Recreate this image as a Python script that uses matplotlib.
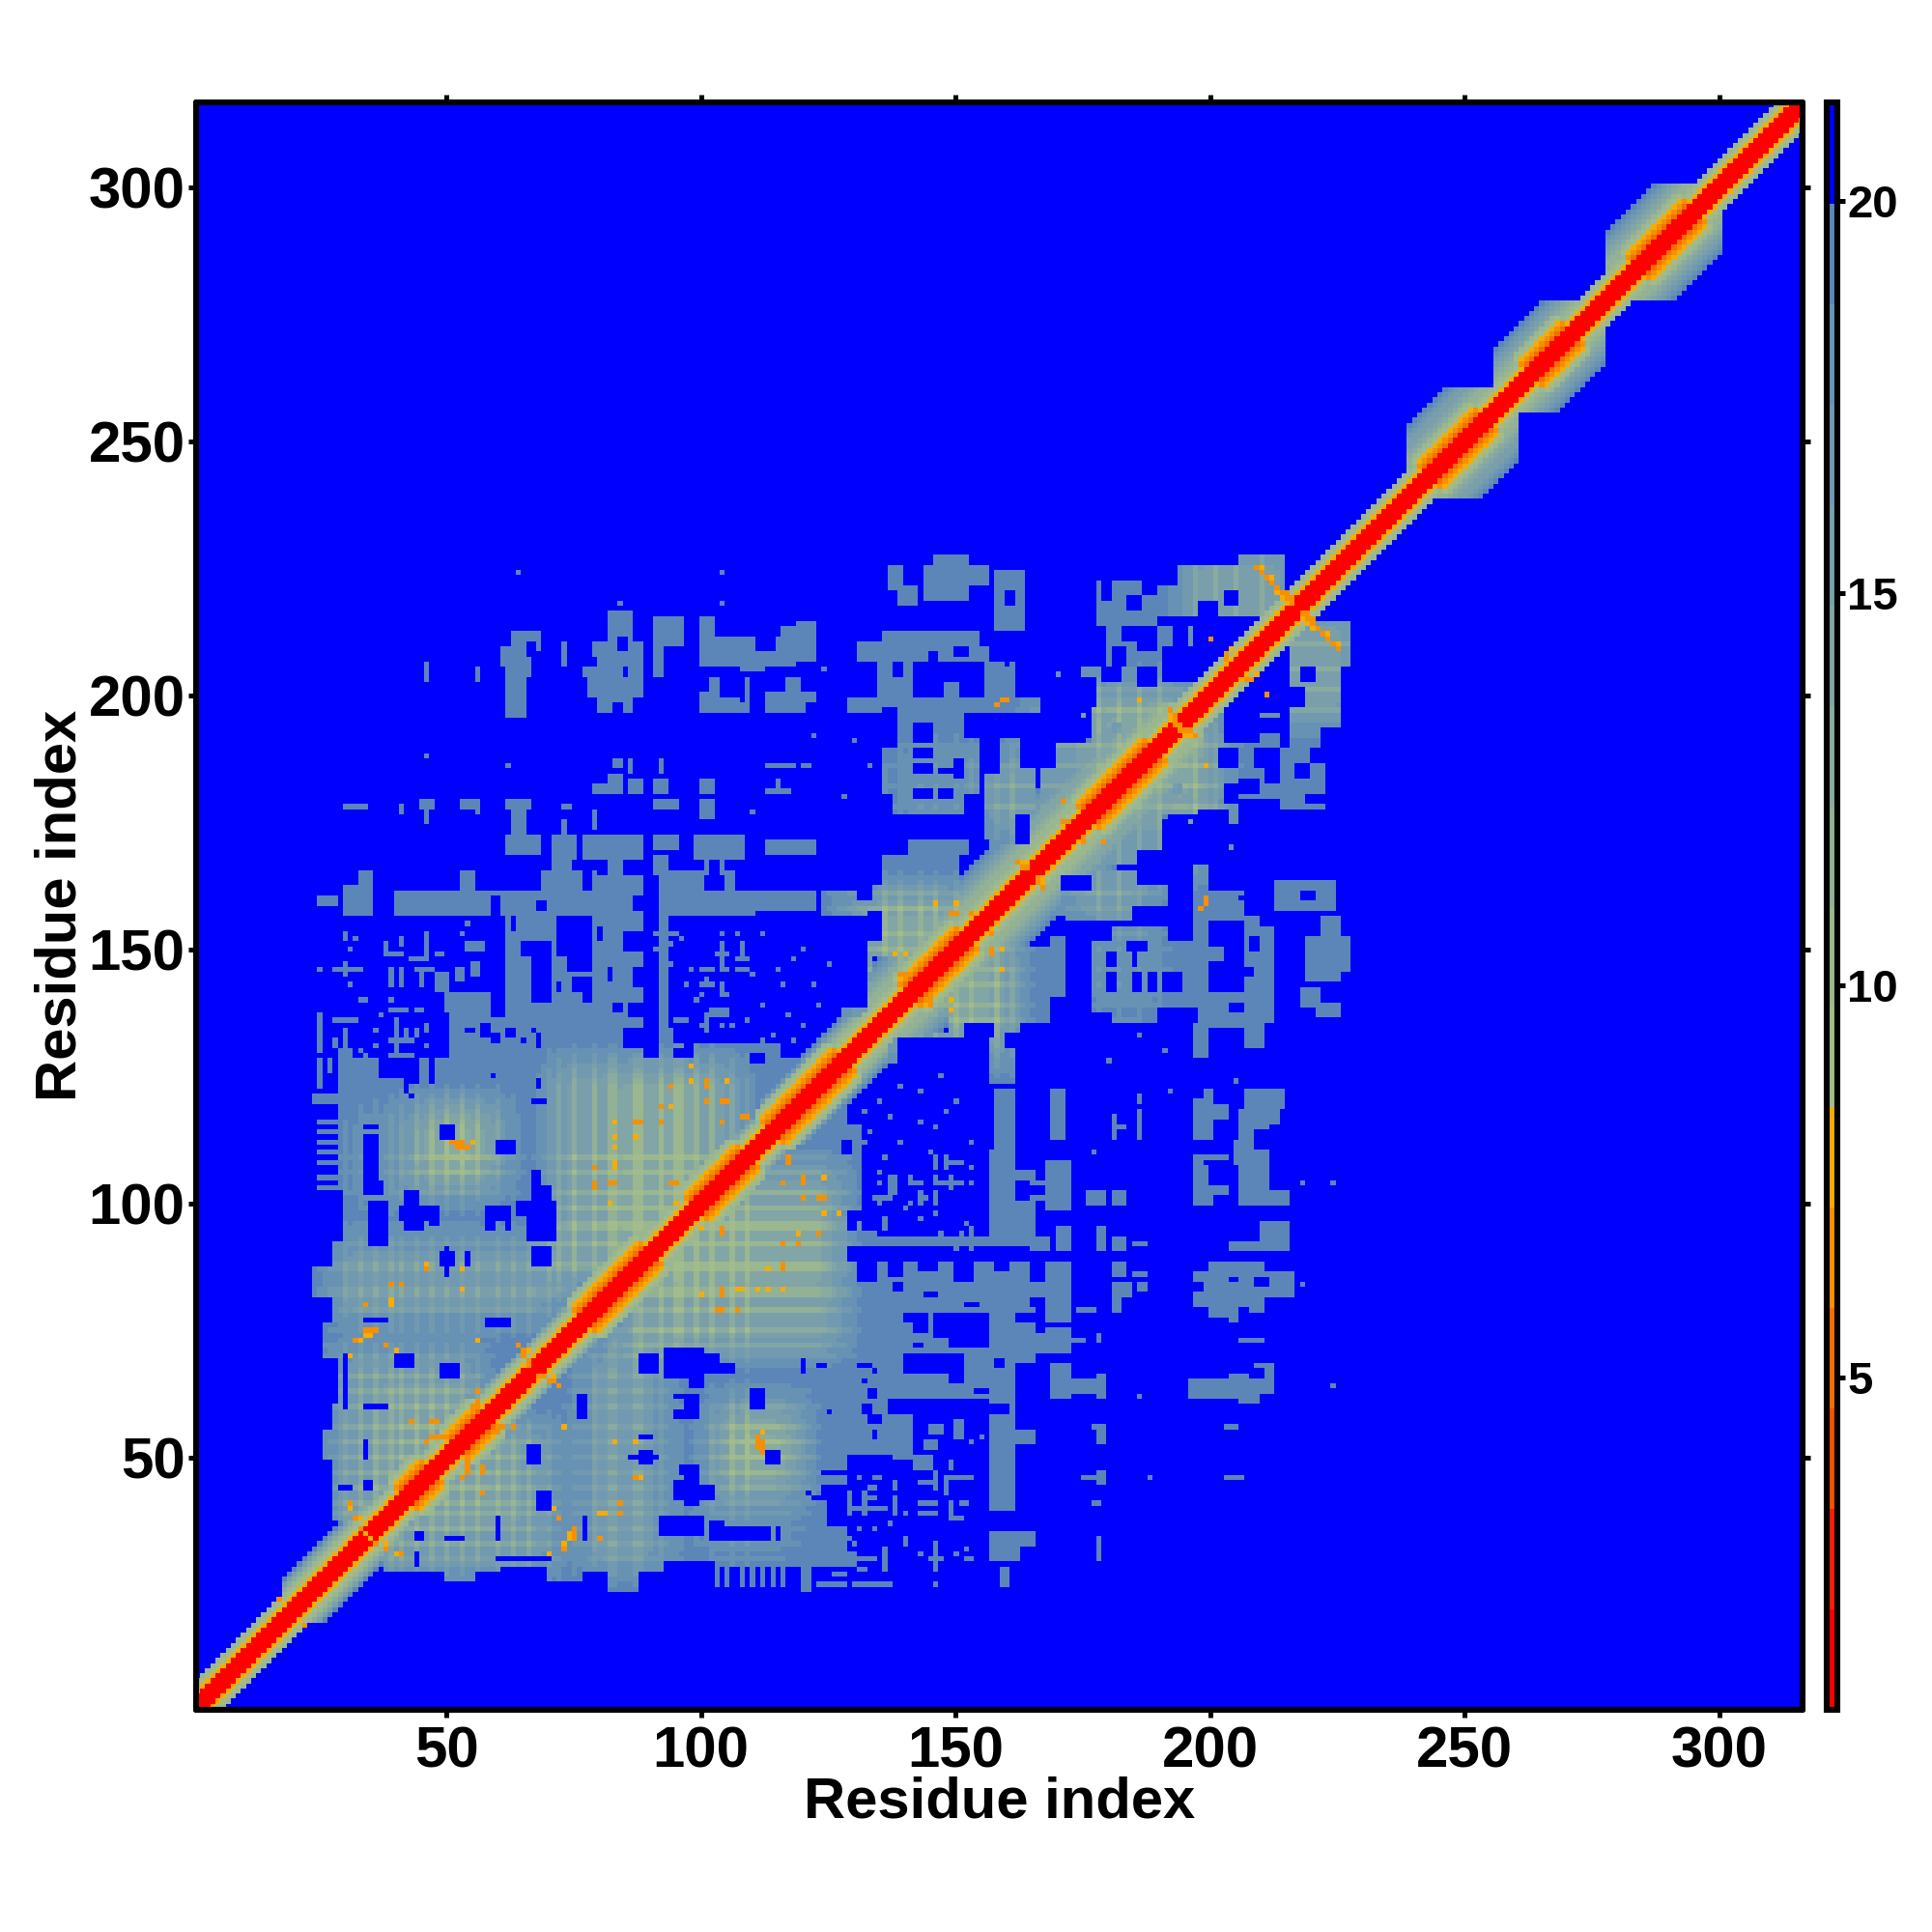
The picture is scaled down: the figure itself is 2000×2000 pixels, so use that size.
import matplotlib
matplotlib.use("Agg")
from matplotlib import pyplot as plt
from matplotlib.colors import ListedColormap, BoundaryNorm
from matplotlib.colorbar import ColorbarBase
import numpy as np

plt.rcParams['font.family'] = ['Liberation Sans', 'DejaVu Sans']
plt.rcParams['font.weight'] = 'bold'

n_res = 316
tick_vals = [50, 100, 150, 200, 250, 300]
cbar_ticks = [5, 10, 15, 20]
bounds = [0.76, 2.04, 3.32, 4.60, 5.88, 7.16, 8.44, 9.72, 11.0, 12.28, 13.56, 14.84, 16.12, 17.4, 18.68, 19.96, 21.26]
level_colors = ['#FF0000', '#F81E08', '#F65000', '#F27000', '#F69000', '#F6AC00',
                '#A3BC8B', '#9BB78F', '#93B194', '#8AABA0', '#82A5A5', '#7A9FAB', '#719AB0', '#6892B3', '#5C86B7',
                '#0000FF']

# distance from the diagonal -> value (ordinary stretch and helix stretch)
plain_profile = [1.5, 1.5, 1.5, 7.5, 9.0, 10.0]
helix_profile = [1.5, 1.5, 1.5, 5.3, 6.5, 7.5, 9.0, 10.0]
helix_spans = [(42, 47), (52, 58), (77, 90), (99, 109), (114, 128), (141, 152), (176, 189),
               (243, 254), (263, 271), (284, 295)]
# (lowest residue, highest residue, how far the halo reaches off the diagonal)
halo_spans = [(1, 317, 6), (18, 40, 9), (40, 118, 8), (112, 136, 10), (133, 170, 14), (165, 198, 16),
              (239, 260, 15), (256, 277, 13), (278, 300, 14)]

# all below are (x0, x1, y0, y1) on the x < y side, the map is symmetric
steel_rects = [
    (82, 86, 213, 216), (80, 88, 206, 212), (79, 88, 208, 210), (77, 88, 204, 205), (91, 96, 210, 215), (91, 92, 204, 210),
    (100, 118, 206, 211), (100, 102, 212, 215), (108, 112, 205, 206), (116, 118, 212, 213), (119, 122, 207, 214), (61, 68, 206, 212), (62, 66, 204, 205),
    (62, 65, 196, 203), (78, 88, 197, 203), (100, 109, 197, 203), (113, 122, 197, 200), (117, 119, 201, 203), (73, 73, 206, 210),
    (46, 46, 203, 206), (56, 56, 203, 205),
    (83, 84, 186, 187), (86, 86, 185, 187), (92, 92, 185, 187), (113, 118, 186, 186), (120, 121, 186, 186),
    (79, 84, 181, 182), (82, 84, 183, 184), (86, 88, 181, 183), (91, 93, 181, 183), (100, 102, 181, 183),
    (113, 117, 181, 181), (115, 115, 182, 183),
    (30, 34, 178, 178), (41, 41, 177, 178), (45, 47, 178, 179), (46, 46, 175, 177), (53, 55, 178, 179),
    (56, 56, 177, 179), (62, 66, 178, 179), (63, 65, 172, 177), (73, 74, 178, 178), (91, 95, 178, 179),
    (100, 102, 176, 179), (79, 79, 174, 177), (73, 73, 171, 175),
    (62, 68, 169, 172), (71, 75, 168, 172), (77, 88, 168, 172), (91, 95, 170, 172), (99, 108, 168, 172),
    (113, 122, 169, 171),
    (71, 74, 165, 168), (80, 88, 165, 168), (91, 93, 165, 168), (101, 101, 165, 168), (104, 104, 165, 168),
    (33, 35, 162, 165), (53, 55, 162, 165), (69, 76, 162, 165), (79, 88, 162, 165), (92, 100, 162, 165),
    (105, 106, 162, 165),
    (30, 35, 157, 162), (40, 88, 157, 161), (92, 110, 157, 161), (111, 122, 158, 161), (124, 130, 157, 161),
    (25, 28, 159, 160), (62, 88, 137, 157), (92, 93, 132, 157), (91, 95, 153, 153),
    # thin strokes in the sparse parts
    (38, 41, 149, 149), (39, 39, 143, 146), (41, 41, 143, 146), (41, 41, 151, 152), (38, 38, 150, 151),
    (43, 46, 148, 148), (46, 46, 148, 153), (45, 45, 143, 145), (44, 47, 146, 146), (48, 49, 149, 149),
    (48, 50, 142, 145), (52, 53, 144, 146), (54, 57, 150, 151), (55, 56, 145, 147), (50, 60, 137, 141),
    (104, 104, 146, 151), (108, 108, 148, 151), (107, 109, 148, 148), (103, 105, 149, 149), (100, 102, 146, 146),
    (107, 109, 146, 146), (100, 102, 143, 143), (104, 104, 141, 143), (94, 94, 147, 147), (94, 94, 151, 151),
    (102, 105, 137, 138), (101, 101, 134, 137), (104, 104, 135, 135), (93, 94, 131, 134),
    (25, 25, 135, 137), (25, 25, 130, 134), (28, 32, 136, 136), (30, 30, 130, 134), (28, 28, 131, 132), (40, 40, 129, 136),
    (42, 42, 133, 134), (39, 43, 132, 132), (44, 44, 133, 134), (39, 42, 138, 138), (44, 45, 138, 138),
    (46, 46, 134, 135), (46, 50, 131, 131), (47, 47, 129, 129), (39, 43, 129, 129), (25, 25, 123, 128), (27, 27, 126, 128),
    (29, 31, 126, 130), (51, 88, 131, 137),
    (51, 88, 128, 131), (92, 96, 128, 131), (99, 115, 128, 131),
    (29, 36, 123, 128), (48, 128, 123, 128), (45, 46, 123, 128), (37, 44, 122, 124),
    (24, 28, 120, 121), (29, 42, 120, 123), (44, 123, 120, 123),
    (29, 120, 103, 120), (25, 28, 116, 116), (25, 28, 114, 114), (25, 28, 112, 112), (25, 28, 110, 110),
    (25, 28, 108, 108), (25, 28, 105, 105), (25, 28, 103, 103),
    (30, 103, 92, 103), (28, 92, 87, 92), (24, 87, 82, 87), (28, 82, 76, 82), (26, 76, 70, 76),
    (29, 70, 60, 70), (28, 60, 55, 60), (26, 55, 50, 55), (28, 50, 38, 50),
    # blobs at the top of the picture
    (137, 142, 218, 225), (144, 156, 219, 225), (146, 152, 225, 227), (158, 163, 213, 224), (178, 189, 214, 222), (190, 206, 216, 225),
    (206, 214, 216, 227), (131, 156, 207, 212), (135, 141, 200, 206), (148, 150, 200, 206), (156, 161, 200, 206),
    (129, 166, 197, 199), (136, 154, 177, 197), (156, 165, 171, 191), (175, 196, 198, 213), (177, 195, 190, 200),
    (170, 186, 178, 190), (167, 170, 174, 185),
    (136, 160, 162, 171), (131, 162, 157, 162), (133, 160, 138, 157), (128, 140, 132, 138),
]
hole_rects = [
    (35, 38, 92, 100), (41, 46, 97, 99), (42, 45, 95, 97), (47, 48, 96, 99), (58, 59, 95, 99), (60, 62, 97, 99), (62, 62, 95, 97),
    (66, 71, 93, 100), (67, 70, 100, 103), (64, 66, 98, 100), (67, 70, 88, 91),
    (49, 51, 88, 90), (50, 50, 86, 91), (54, 54, 88, 90), (34, 38, 77, 77), (58, 62, 76, 77), (49, 52, 66, 68), (40, 43, 68, 70),
    (30, 30, 60, 70), (34, 38, 60, 60), (34, 34, 50, 53), (34, 35, 44, 45), (29, 31, 44, 44),
    (34, 36, 109, 113), (34, 36, 105, 108), (34, 37, 102, 104), (34, 36, 115, 115),
    (49, 51, 113, 115), (60, 63, 110, 112), (67, 68, 104, 106), (42, 44, 98, 102),
    (37, 39, 125, 127), (42, 44, 124, 127), (47, 47, 125, 127), (42, 42, 122, 123), (59, 59, 125, 125), (68, 68, 123, 124),
    (67, 69, 120, 120), (47, 50, 129, 137),
    (67, 70, 140, 151), (72, 78, 149, 156), (74, 78, 146, 149), (72, 72, 142, 143), (75, 76, 142, 144),
    (77, 78, 140, 144), (59, 61, 137, 147), (54, 55, 134, 134), (57, 58, 133, 135), (59, 60, 132, 133),
    (62, 63, 133, 134), (65, 65, 132, 132), (67, 67, 134, 134), (68, 68, 131, 133), (59, 60, 157, 160),
    (68, 69, 158, 159), (65, 66, 149, 151), (63, 63, 154, 156), (95, 97, 129, 130), (110, 112, 128, 129),
    # jagged right edge of the steel column
    (85, 88, 131, 134), (86, 88, 137, 139), (87, 88, 143, 146), (85, 88, 150, 153), (87, 88, 158, 160), (85, 88, 165, 167),
    (80, 81, 165, 167), (83, 84, 138, 139), (82, 82, 144, 146), (80, 80, 152, 154),
    # top blobs
    (142, 145, 191, 194), (142, 145, 188, 189), (142, 145, 185, 186), (142, 145, 180, 181), (147, 149, 180, 181),
    (147, 149, 185, 185), (150, 151, 184, 187), (191, 197, 203, 209), (151, 156, 163, 168), (181, 183, 206, 209),
    (186, 189, 202, 205), (198, 201, 216, 218), (203, 205, 218, 220), (66, 67, 208, 210), (84, 85, 209, 211),
    (85, 85, 204, 205), (104, 104, 200, 203), (108, 108, 199, 203), (150, 152, 208, 209), (145, 146, 206, 208),
    (160, 161, 218, 220), (184, 186, 217, 219), (158, 159, 193, 195), (181, 182, 193, 194),
    (175, 179, 206, 213), (175, 177, 198, 203), (186, 189, 209, 213), (190, 193, 222, 225), (179, 182, 203, 205),
    (193, 195, 210, 214), (198, 201, 209, 215), (183, 185, 211, 213), (179, 180, 219, 222), (187, 189, 220, 222),
    (136, 138, 190, 197), (152, 154, 192, 196), (136, 137, 177, 180), (152, 154, 177, 180), (162, 165, 171, 176),
    (156, 158, 185, 191), (163, 165, 186, 191), (148, 150, 203, 206), (138, 139, 204, 206), (131, 135, 211, 212),
    (155, 156, 210, 212), (140, 142, 222, 225), (137, 138, 218, 220), (153, 156, 219, 221), (160, 160, 205, 206),
    (136, 140, 169, 171), (153, 156, 169, 171), (131, 133, 160, 162), (133, 135, 152, 157), (134, 136, 142, 148),
    (83, 84, 197, 198), (78, 79, 197, 199), (87, 88, 197, 199), (100, 101, 201, 203), (105, 108, 200, 203), (121, 122, 197, 198),
    (61, 62, 210, 212), (67, 68, 206, 208), (80, 81, 211, 212), (87, 88, 211, 212), (111, 114, 209, 211),
]
steel_dots = [
    (64, 224), (104, 224), (104, 218), (84, 218), (62, 186), (46, 188), (30, 146), (29, 146), (28, 146), (31, 146),
    (32, 146), (33, 146), (25, 146), (30, 145), (30, 147), (31, 143), (30, 152), (30, 153), (32, 152), (31, 150),
    (33, 140), (34, 140), (39, 140), (53, 153), (54, 155), (91, 150), (98, 146), (101, 144), (104, 148), (105, 146),
    (108, 150), (110, 145), (107, 153), (104, 153), (100, 141), (105, 141), (112, 139), (116, 143), (96, 152),
    (109, 136), (106, 135), (100, 135), (92, 138), (96, 136), (120, 150), (118, 148), (122, 143), (125, 147),
    (110, 177), (128, 180), (133, 186), (130, 191), (122, 192), (124, 205), (160, 205), (170, 204), (175, 196),
    (92, 141), (97, 143), (99, 140), (112, 153), (115, 146), (117, 137), (120, 135), (123, 139), (114, 133), (112, 132), (118, 132),
    (36, 134), (37, 137), (33, 130), (34, 129), (36, 131), (95, 136), (97, 136),
]
# (x, y, value) single warm cells
hot_cells = [
    (34, 75, 6.5), (35, 75, 6.0), (36, 75, 6.5), (35, 74, 7.5), (34, 74, 7.5), (33, 73, 7.5), (32, 73, 6.0), (31, 70, 7.5),
    (38, 72, 7.0), (40, 71, 7.5), (39, 84, 6.0), (41, 84, 7.0), (39, 80, 7.5), (39, 81, 7.5), (34, 80, 6.0), (46, 87, 6.5),
    (46, 88, 7.5), (53, 87, 7.5), (53, 83, 7.5), (56, 73, 7.5), (43, 57, 7.0), (47, 57, 6.5), (48, 57, 6.5),
    (46, 53, 6.5), (47, 54, 6.5), (48, 54, 7.0), (49, 54, 6.5), (50, 54, 6.5),
    (64, 72, 7.0), (65, 71, 6.5), (66, 71, 7.5), (65, 70, 6.5), (66, 69, 6.5), (66, 68, 6.5), (56, 63, 6.5), (56, 61, 6.5),
    (55, 60, 6.5), (31, 41, 6.5), (31, 40, 7.5), (32, 38, 6.5), (33, 38, 7.5), (33, 36, 6.5), (34, 35, 7.5),
    (51, 112, 6.5), (52, 112, 6.0), (53, 112, 7.0), (52, 111, 6.0), (53, 111, 6.0), (54, 111, 6.5), (55, 112, 7.5),
    (83, 116, 7.5), (87, 116, 7.0), (88, 116, 7.0), (83, 113, 7.5), (87, 113, 7.5), (83, 111, 7.5), (83, 107, 7.5), (83, 108, 7.5),
    (79, 107, 6.5), (79, 103, 6.5), (79, 104, 6.5), (82, 104, 7.0), (83, 104, 7.0), (82, 100, 7.5), (92, 116, 7.0),
    (92, 119, 7.0), (94, 119, 7.5), (94, 123, 6.5), (98, 127, 7.5), (98, 124, 7.5), (101, 123, 6.5), (101, 124, 6.5),
    (105, 124, 7.5), (101, 120, 6.5), (104, 120, 6.5), (105, 120, 6.5), (104, 116, 7.0), (108, 117, 6.5), (109, 117, 6.5),
    (95, 104, 7.0), (94, 104, 7.0), (95, 100, 7.5),
    (146, 159, 7.5), (150, 159, 7.5), (149, 157, 6.5), (150, 157, 6.5), (153, 157, 6.5), (138, 149, 7.5), (140, 149, 7.5),
    (140, 145, 6.5), (141, 145, 6.5), (139, 145, 6.5), (160, 199, 7.0), (158, 198, 7.0), (159, 199, 6.5), (186, 199, 7.5), (171, 179, 6.5),
    (171, 175, 6.5), (172, 175, 6.5), (200, 211, 7.0), (203, 208, 7.0), (204, 209, 7.5), (203, 207, 7.0),
    (209, 225, 6.5), (210, 224, 6.5), (211, 223, 6.5), (212, 222, 6.5), (213, 221, 6.5), (214, 220, 6.5), (215, 219, 6.0),
    (213, 220, 7.5), (214, 219, 7.5), (215, 220, 7.0), (216, 219, 6.5), (216, 218, 6.5), (210, 225, 7.5), (212, 223, 7.5),
    (192, 197, 6.5), (192, 196, 7.5), (193, 196, 6.5), (193, 195, 6.5), (194, 194, 6.5), (193, 194, 7.0),
    (162, 167, 6.5), (163, 166, 7.0), (163, 167, 7.5), (164, 166, 6.5), (17, 22, 6.5),
]
# (x0, x1, y0, y1, depth) where the steel turns towards green
green_rects = [
    (71, 107, 85, 127, 5.5), (83, 100, 100, 125, 1.5), (42, 62, 102, 120, 3.0), (47, 58, 106, 118, 4.5), (31, 56, 100, 118, 1.5),
    (28, 71, 77, 92, 3.5), (28, 56, 33, 70, 4.5), (40, 60, 33, 60, 1.5), (128, 160, 133, 162, 3.5), (133, 150, 145, 160, 3.0),
    (166, 196, 175, 202, 4.5), (195, 216, 213, 228, 5.5), (178, 195, 190, 198, 2.5), (138, 155, 176, 190, 1.5),
    (156, 165, 172, 188, 4.0), (84, 92, 90, 100, 2.0),
]
# rows and columns that stand out in the plaid
stripe_res = [30, 33, 36, 39, 41, 44, 47, 50, 53, 56, 60, 63, 66, 70, 72, 75, 79, 82, 83, 87, 88, 92, 95, 96, 99, 102, 106, 109,
              136, 139, 143, 146, 150, 153, 158, 161, 178, 182, 186, 190, 197, 201, 205, 210]


def fill_rects(mask, rects, state):
    for x0, x1, y0, y1 in rects:
        mask[y0 - 1:y1, x0 - 1:x1] = state


def build_map():
    vals = np.full((n_res, n_res), 20.5)
    mask = np.zeros((n_res, n_res), dtype=bool)
    fill_rects(mask, steel_rects, True)
    fill_rects(mask, hole_rects, False)
    for x, y in steel_dots:
        mask[y - 1, x - 1] = True

    depth = np.zeros((n_res, n_res))
    for x0, x1, y0, y1, d in green_rects:
        depth[y0 - 1:y1, x0 - 1:x1] += d
    # soften patch edges, 9 cell box in both directions
    box = np.ones(9) / 9
    depth = np.apply_along_axis(lambda r: np.convolve(r, box, mode='same'), 0, depth)
    depth = np.apply_along_axis(lambda r: np.convolve(r, box, mode='same'), 1, depth)
    weight = np.full(n_res, 0.45)
    for r in stripe_res:
        weight[r - 1] = 1.0
    plaid = weight[:, None] + weight[None, :] - 0.2

    vals[mask] = 19.3 - (depth * plaid)[mask]
    vals = np.where(mask, np.clip(vals, 9.0, 19.3), vals)

    # keep the lower triangle of this (x < y), band comes on top
    for y in range(n_res):
        for x in range(y + 1):
            d = y - x
            mid = (x + y) / 2 + 1
            for a, b, w in halo_spans:
                if x + 1 >= a and y + 1 <= b and d < w:
                    v = 10.0 + 9.0 * (d - 5) / max(w - 6, 1) if d > 5 else 10.0
                    vals[y, x] = min(vals[y, x], v)
            profile = plain_profile
            for a, b in helix_spans:
                if a <= mid <= b:
                    profile = helix_profile
            if d < len(profile):
                vals[y, x] = profile[d]

    for x, y, v in hot_cells:
        vals[y - 1, x - 1] = v

    # mirror
    lower = np.tril(vals)
    return lower + lower.T - np.diag(np.diag(vals))


cmap = ListedColormap(level_colors)
norm = BoundaryNorm(bounds, cmap.N)

fig = plt.figure(figsize=(10, 10), dpi=200)
ax = fig.add_axes([202.5 / 2000, 1 - 1770 / 2000, (1866 - 202.5) / 2000, (1770 - 105.5) / 2000])
ax.imshow(build_map(), origin='lower', cmap=cmap, norm=norm, interpolation='nearest', aspect='auto',
          extent=(0.5, n_res + 0.5, 0.5, n_res + 0.5))
ax.set_xlim(0.7, 316.4)
ax.set_ylim(0.4, 316.8)
ax.set_xticks(tick_vals)
ax.set_yticks(tick_vals)
ax.tick_params(axis='both', which='major', direction='out', length=2.9, width=1.8, labelsize=21.6, pad=1,
               top=True, right=True)
ax.tick_params(axis='x', pad=3)
for s in ax.spines.values():
    s.set_linewidth(2.2)
    s.set_capstyle('round')
ax.set_xlabel('Residue index', fontsize=21.5, fontweight='bold', labelpad=-1)
ax.set_ylabel('Residue index', fontsize=21.5, fontweight='bold', labelpad=0.4)

cax = fig.add_axes([1890.5 / 2000, 1 - 1770 / 2000, 11 / 2000, (1770 - 105.5) / 2000])
cb = ColorbarBase(cax, cmap=cmap, norm=norm, boundaries=bounds, spacing='proportional', ticks=cbar_ticks,
                  orientation='vertical')
cb.outline.set_linewidth(2.2)
cb.minorticks_off()
cax.tick_params(axis='y', direction='out', length=2.9, width=1.8, labelsize=17, pad=1)

fig.savefig('out.png', dpi=200)
